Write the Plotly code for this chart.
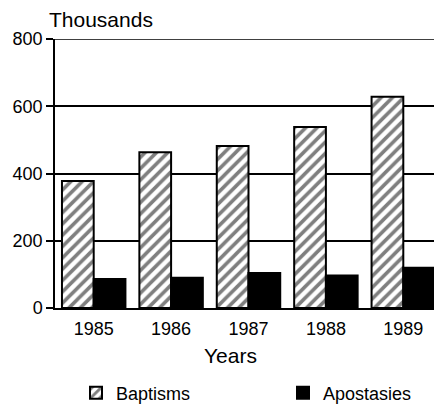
import plotly.graph_objects as go

years = ["1985", "1986", "1987", "1988", "1989"]
baptisms = [378, 463, 482, 538, 628]
apostasies = [86, 90, 104, 97, 120]
y_ticks = [0, 200, 400, 600, 800]

FONT = "Liberation Sans, Arial, Helvetica, sans-serif"

W, H = 434, 396
L, R, T, B = 47, 0, 31, 96
PW = W - L - R
PH = H - T - B

fig = go.Figure()
fig.add_trace(go.Bar(
    x=years, y=baptisms, name="Baptisms", legend="legend",
    marker=dict(color="white",
                pattern=dict(shape="/", fgcolor="black", bgcolor="white", size=8, solidity=0.45),
                line=dict(color="black", width=2)),
))
fig.add_trace(go.Bar(
    x=years, y=apostasies, name="Apostasies", legend="legend2",
    marker=dict(color="black", line=dict(color="black", width=2)),
))

leg_y = -85 / PH
fig.update_layout(
    width=W, height=H,
    margin=dict(l=L, r=R, t=T, b=B, autoexpand=False),
    paper_bgcolor="white", plot_bgcolor="white",
    barmode="group", bargap=0.18, bargroupgap=0,
    font=dict(family=FONT, size=18, color="black"),
    showlegend=True,
    legend=dict(orientation="h", x=(68 - L) / PW, xanchor="left", y=leg_y, yanchor="middle",
                font=dict(size=18), bgcolor="rgba(0,0,0,0)"),
    legend2=dict(orientation="h", x=(275 - L) / PW, xanchor="left", y=leg_y, yanchor="middle",
                 font=dict(size=18), bgcolor="rgba(0,0,0,0)"),
    shapes=[dict(type="line", xref="paper", yref="y", x0=0, x1=1, y0=800, y1=800,
                 line=dict(color="black", width=1.5), layer="below")],
    annotations=[
        dict(text="Thousands", xref="paper", yref="paper", x=0, y=1, xanchor="left",
             yanchor="bottom", xshift=-8, yshift=6, showarrow=False, font=dict(size=21)),
        dict(text="Years", xref="paper", yref="paper", x=(222.5 - L) / PW, y=0,
             xanchor="center", yanchor="middle", yshift=-47, showarrow=False, font=dict(size=21)),
    ],
)
fig.update_xaxes(type="category", range=[-0.5, 4.5], showline=True, linecolor="black", linewidth=1.5,
                 showgrid=False, ticks="outside", ticklen=4, tickcolor="rgba(0,0,0,0)",
                 tickfont=dict(size=18))
fig.update_yaxes(range=[0, 800], tickvals=y_ticks, showline=True, linecolor="black", linewidth=1.5,
                 showgrid=True, gridcolor="black", gridwidth=1.5, zeroline=False,
                 ticks="outside", ticklen=7, tickcolor="black", tickwidth=1.5,
                 tickfont=dict(size=18))

fig.write_html("out.html")
